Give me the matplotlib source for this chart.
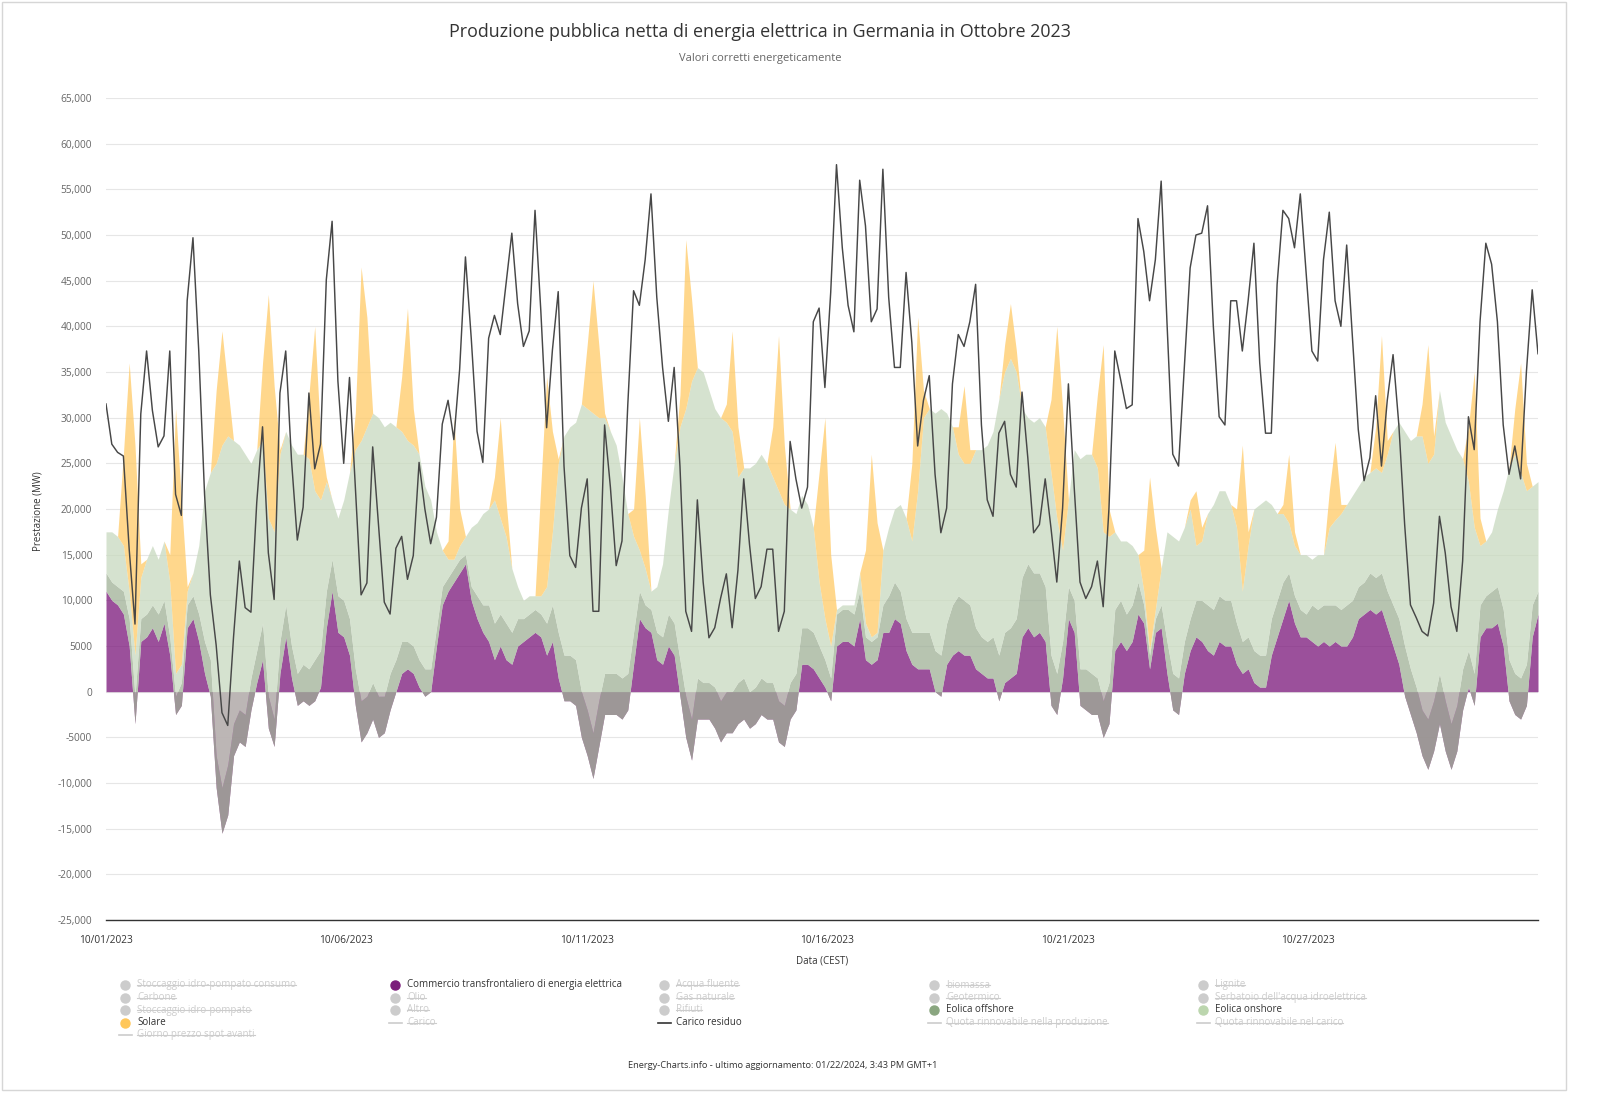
import numpy as np
import matplotlib
matplotlib.use("Agg")
import matplotlib.pyplot as plt
from matplotlib.lines import Line2D
from matplotlib.patches import Rectangle

plt.rcParams['font.family'] = ['Open Sans', 'DejaVu Sans']

W, H = 1600, 1116

# 3-hourly samples, hours since 10/01/2023 00:00 (one row per day)
hours = np.arange(1, 744, 3)

# Commercio transfrontaliero (MW), negative = export
trade = [
    11000, 10000, 9500, 8500, 5000, -3500, 5500, 6000,
    7000, 5500, 7500, 4000, -2500, -1500, 7000, 8000,
    5500, 2000, -500, -10500, -15500, -13500, -7000, -5500,
    -6000, -2000, 1000, 3500, -4000, -6000, 2000, 6000,
    1500, -1500, -1000, -1500, -1000, 500, 7000, 11000,
    6500, 6000, 4000, -1500, -5500, -4500, -3000, -5000,
    -4500, -2000, 0, 2000, 2500, 2000, 500, -500,
    0, 5000, 9500, 11000, 12000, 13000, 14000, 10000,
    8000, 6500, 5500, 3500, 5000, 3500, 3000, 5000,
    5500, 6000, 6500, 6000, 4000, 5500, 1500, -1000,
    -1000, -1500, -5000, -7000, -9500, -6000, -2500, -2500,
    -2500, -3000, -2000, 3000, 8000, 7000, 6500, 3500,
    3000, 5000, 4000, -500, -5000, -7500, -3000, -3000,
    -3000, -4000, -5500, -4500, -4500, -3500, -3000, -4000,
    -3500, -2500, -3000, -3000, -5500, -6000, -3000, -2000,
    3000, 3000, 2500, 1500, 500, -1000, 5000, 5500,
    5500, 5000, 8000, 3500, 3000, 3500, 6500, 6500,
    8000, 7500, 4500, 3000, 2500, 2500, 2500, 0,
    -500, 3000, 4000, 4500, 4000, 4000, 2500, 2000,
    1500, 1500, -1000, 1000, 1500, 2000, 6000, 7000,
    6000, 6500, 5500, -1500, -2500, 1500, 8000, 6500,
    -1500, -2000, -2500, -2500, -5000, -3500, 4500, 5500,
    4500, 5500, 8500, 7500, 2500, 6500, 7000, 2000,
    -2000, -2500, 2000, 4500, 6000, 5500, 4500, 4000,
    5500, 5000, 5000, 3000, 2000, 2500, 1000, 500,
    500, 4000, 6000, 8000, 10000, 7500, 6000, 6000,
    5500, 5000, 5500, 5000, 5500, 5000, 5000, 6000,
    8000, 8500, 9000, 8500, 9000, 7000, 5000, 3000,
    -500, -2500, -4500, -7000, -8500, -6500, -3500, -6500,
    -8500, -6500, -2000, 500, -1500, 6000, 7000, 7000,
    7500, 5000, -1000, -2500, -3000, -1500, 6000, 8500,
]

# Eolica offshore (MW)
offshore = [
    2000, 2000, 2000, 2500, 3000, 3000, 2500, 2500,
    2500, 3000, 2500, 2000, 2000, 2500, 2500, 2500,
    3000, 3500, 4000, 3500, 5000, 5500, 3500, 3500,
    3500, 3500, 3500, 4000, 3500, 3000, 3500, 3500,
    3500, 3500, 4000, 4000, 4500, 4000, 4000, 3500,
    4000, 4000, 4000, 4000, 4500, 4000, 4000, 4500,
    4000, 4000, 3500, 3500, 3000, 3000, 3000, 3000,
    2500, 2000, 2000, 1500, 1500, 1500, 1000, 1500,
    2500, 3000, 4000, 4000, 3500, 4000, 3500, 3000,
    2500, 2500, 2500, 2500, 3500, 4000, 5000, 5000,
    5000, 5000, 5000, 5000, 5000, 5000, 4500, 4500,
    4500, 4500, 4000, 3500, 3000, 2500, 2500, 3000,
    3000, 3500, 3500, 4000, 4500, 4500, 4500, 4000,
    4000, 4500, 4500, 4500, 4500, 4500, 4500, 4000,
    4000, 4000, 4000, 4000, 4500, 4500, 4000, 4000,
    4000, 4000, 4000, 3500, 3000, 2500, 3500, 3500,
    3500, 3500, 3000, 2500, 2500, 2500, 3000, 4000,
    4000, 3500, 3500, 3500, 4000, 4000, 4000, 4500,
    4500, 4500, 5500, 6000, 6000, 5500, 4500, 4000,
    4000, 4500, 5000, 5500, 5500, 6000, 6500, 7000,
    7000, 6500, 6000, 5500, 4500, 4000, 3500, 3500,
    4000, 4500, 4500, 4000, 4000, 4500, 4500, 4500,
    4000, 4000, 3500, 2000, 1500, 1500, 2500, 3500,
    4000, 4000, 3500, 3500, 4000, 4500, 5000, 5000,
    5000, 5000, 5000, 4500, 3500, 3500, 3500, 3500,
    3500, 4000, 4000, 4000, 3000, 3000, 3000, 2500,
    4000, 4000, 4000, 4500, 4000, 4000, 4500, 4000,
    3500, 3500, 4000, 4000, 4000, 4000, 4500, 5000,
    5500, 5000, 5000, 5000, 5500, 5500, 5500, 5500,
    5000, 5000, 4500, 4000, 3500, 3500, 3500, 4000,
    4000, 4000, 4500, 4500, 4500, 4500, 3500, 2500,
]

# Eolica onshore (MW)
onshore = [
    4500, 5500, 5500, 5000, 3000, 4500, 4500, 6000,
    6500, 6000, 6500, 6000, 2500, 2000, 1500, 2500,
    7500, 16500, 20500, 32000, 37500, 36000, 31000, 29000,
    28500, 23500, 22000, 20000, 19500, 20500, 20500, 19000,
    22000, 24000, 23000, 23000, 18500, 16500, 12000, 6500,
    8500, 11000, 16000, 24000, 28500, 29500, 29500, 30500,
    29500, 27500, 25500, 23000, 22000, 22000, 22500, 20000,
    18500, 10500, 4000, 2000, 1000, 1500, 2000, 6500,
    8000, 10000, 10500, 13500, 10500, 9500, 7000, 3500,
    2000, 2000, 1500, 2000, 4000, 8000, 18500, 24000,
    25000, 26000, 31500, 33000, 35000, 31000, 28000, 26500,
    25000, 22000, 17500, 10500, 4500, 4000, 2000, 5000,
    8000, 11500, 17500, 25500, 31500, 37000, 34000, 34000,
    32000, 30500, 31000, 29500, 28500, 22500, 23000, 24500,
    24500, 24500, 24000, 22500, 23000, 22000, 19000, 17500,
    14500, 13500, 11500, 7000, 4500, 3500, 500, 500,
    500, 1000, 2000, 1500, 500, 500, 6000, 7500,
    8000, 9500, 11000, 10000, 15500, 23500, 24500, 26000,
    27000, 23000, 19500, 15500, 15000, 15500, 19500, 20500,
    21500, 22500, 28000, 28500, 29500, 27000, 18500, 16000,
    16500, 17000, 17500, 20000, 17000, 10000, 9500, 16500,
    23000, 23500, 24000, 23000, 18500, 16000, 8500, 6500,
    8000, 6500, 3000, 1500, 500, 1000, 4000, 12000,
    15000, 15000, 12500, 12000, 6000, 6500, 10000, 11500,
    11500, 12000, 10500, 10500, 5500, 10000, 15500, 16500,
    17000, 12500, 9500, 7500, 5500, 5500, 6000, 6500,
    5000, 6000, 5500, 8500, 9300, 10500, 11000, 11500,
    11000, 11500, 11000, 12000, 11000, 15000, 19000, 21500,
    23500, 25000, 27500, 30000, 28000, 27000, 31000, 30500,
    31500, 28000, 23000, 18500, 16000, 6500, 6000, 6500,
    8500, 13000, 21000, 24000, 22500, 19000, 13000, 12000,
]

# Solare (MW)
solar = [
    0, 0, 0, 10000, 25000, 23000, 1500, 0,
    0, 0, 0, 3000, 29000, 18000, 500, 0,
    0, 0, 0, 8000, 12500, 5500, 0, 0,
    0, 0, 0, 8500, 24500, 16000, 500, 0,
    0, 0, 0, 7000, 18000, 7000, 500, 0,
    0, 0, 0, 4000, 19000, 12000, 0, 0,
    0, 0, 0, 6000, 14500, 4000, 0, 0,
    0, 0, 0, 2000, 15500, 4000, 0, 0,
    0, 0, 0, 2500, 11000, 4000, 0, 0,
    0, 0, 0, 12000, 23000, 11000, 500, 0,
    0, 0, 0, 7000, 14500, 8000, 500, 0,
    0, 0, 0, 3000, 14500, 8000, 0, 0,
    0, 0, 0, 3500, 18500, 9000, 0, 0,
    0, 0, 0, 2000, 11000, 5500, 0, 0,
    0, 0, 0, 5500, 17000, 6500, 0, 0,
    0, 0, 0, 12000, 22000, 10000, 0, 0,
    0, 0, 0, 8000, 20000, 12000, 0, 0,
    0, 0, 0, 8500, 19000, 3000, 0, 0,
    0, 0, 0, 3000, 8500, 1500, 0, 0,
    0, 0, 0, 3000, 6000, 2500, 0, 0,
    0, 0, 0, 8000, 21000, 15500, 0, 0,
    0, 0, 0, 8000, 20500, 3000, 0, 0,
    0, 0, 0, 4500, 19000, 9000, 0, 0,
    0, 0, 0, 1000, 6000, 1500, 0, 0,
    0, 0, 0, 2000, 16000, 1500, 0, 0,
    0, 0, 0, 1000, 7500, 1500, 0, 0,
    0, 0, 0, 4000, 8500, 1000, 0, 0,
    0, 0, 0, 4500, 15000, 1500, 0, 0,
    0, 0, 0, 3500, 13000, 2000, 0, 0,
    0, 0, 0, 6000, 17000, 3000, 0, 0,
    0, 0, 0, 5000, 12000, 3000, 0, 0,
]

# Carico residuo (MW)
residual = [
    31500, 27100, 26200, 25800, 15600, 7400, 30400, 37300,
    30800, 26800, 28000, 37300, 21600, 19300, 42800, 49700,
    37300, 21600, 10600, 5100, -2300, -3700, 6000, 14300,
    9200, 8700, 20700, 29000, 15200, 10100, 32700, 37300,
    25300, 16600, 20200, 32700, 24400, 27100, 45100, 51500,
    34000, 25000, 34400, 22500, 10600, 11900, 26800, 18300,
    9800, 8500, 15700, 17000, 12300, 14900, 25100, 20000,
    16200, 19100, 29300, 31900, 27600, 35300, 47600, 38700,
    28500, 25100, 38700, 41200, 39100, 44600, 50200, 42500,
    37800, 39500, 52700, 41700, 28900, 37400, 43800, 24700,
    14900, 13600, 20100, 23300, 8800, 8800, 29200, 22400,
    13800, 16500, 31400, 43900, 42300, 47300, 54500, 43200,
    35500, 29600, 35500, 24700, 8800, 6600, 21000, 12000,
    5900, 7000, 10200, 12900, 7000, 13300, 23300, 16100,
    10200, 11500, 15600, 15600, 6600, 8800, 27400, 23300,
    20100, 22400, 40500, 42000, 33300, 43700, 57700, 48600,
    42300, 39400, 56000, 51000, 40500, 41900, 57200, 43200,
    35500, 35500, 45900, 38200, 26900, 31900, 34600, 23800,
    17400, 20100, 33700, 39100, 37800, 40500, 44600, 29200,
    21000, 19200, 28300, 29600, 23800, 22400, 32800, 25600,
    17400, 18300, 23300, 17900, 12000, 20100, 33700, 22400,
    12000, 10200, 11500, 14300, 9300, 20100, 37300, 34200,
    31000, 31400, 51800, 48200, 42800, 47300, 55900, 40500,
    26000, 24700, 35500, 46400, 50000, 50200, 53200, 40000,
    30100, 29200, 42800, 42800, 37300, 42800, 49100, 36000,
    28300, 28300, 44600, 52700, 51800, 48600, 54500, 45900,
    37300, 36200, 47300, 52500, 42800, 40000, 48900, 38700,
    28700, 23100, 25600, 32400, 24700, 31900, 36900, 29200,
    18300, 9500, 8100, 6600, 6100, 9700, 19200, 15200,
    9300, 6600, 14300, 30100, 26500, 40500, 49100, 46800,
    40500, 29200, 23800, 26900, 23300, 35000, 44000, 37000,
]

tick_hours = [1, 125, 250, 374, 499, 623]
tick_labels = ["10/01/2023", "10/06/2023", "10/11/2023",
               "10/16/2023", "10/21/2023", "10/27/2023"]

legend_names = [
    "Stoccaggio idro-pompato consumo", "Commercio transfrontaliero di energia elettrica",
    "Acqua fluente", "biomassa", "Lignite",
    "Carbone", "Olio", "Gas naturale", "Geotermico", "Serbatoio dell'acqua idroelettrica",
    "Stoccaggio idro-pompato", "Altro", "Rifiuti", "Eolica offshore", "Eolica onshore",
    "Solare", "Carico", "Carico residuo", "Quota rinnovabile nella produzione",
    "Quota rinnovabile nel carico",
    "Giorno prezzo spot avanti",
]
line_items = {"Carico", "Carico residuo", "Quota rinnovabile nella produzione",
              "Quota rinnovabile nel carico", "Giorno prezzo spot avanti"}

# fill colours (drawn at 0.75 opacity, overlaps below zero give the greys)
c_trade = "#7a167a"
c_off = "#9fb096"
c_on = "#c8d9bf"
c_solar = "#ffca66"
c_res = "#474747"
active = {"Commercio transfrontaliero di energia elettrica": "#7b1e7b",
          "Eolica offshore": "#8aa680", "Eolica onshore": "#bcd6ae",
          "Solare": "#ffc75a", "Carico residuo": "#333333"}


def fx(x):
    return x / W


def fy(y):
    return 1 - y / H


tr = np.array(trade, float)
b1 = tr + np.array(offshore)
b2 = b1 + np.array(onshore)
b3 = b2 + np.array(solar)

fig = plt.figure(figsize=(16, 11.16), dpi=100)
ax = fig.add_axes([fx(106), fy(920), (1538 - 106) / W, (920 - 98) / H])

a = 0.75
ax.fill_between(hours, 0, tr, color=c_trade, alpha=a, lw=0)
ax.fill_between(hours, tr, b1, color=c_off, alpha=a, lw=0)
ax.fill_between(hours, b1, b2, color=c_on, alpha=a, lw=0)
ax.fill_between(hours, b2, b3, color=c_solar, alpha=a, lw=0)
ax.plot(hours, residual, color=c_res, lw=1.05)

ax.set_xlim(1, 742)
ax.set_ylim(-25000, 65000)
yt = np.arange(-25000, 65001, 5000)
ax.set_yticks(yt)
ax.set_yticklabels([f"{v:,}" if abs(v) >= 10000 else str(v) for v in yt])
ax.set_xticks(tick_hours)
ax.set_xticklabels(tick_labels)
ax.grid(axis="y", color="#e6e6e6", lw=0.8)
ax.set_axisbelow(True)
for s in ["left", "right", "top"]:
    ax.spines[s].set_visible(False)
ax.spines["bottom"].set_color("#333333")
ax.spines["bottom"].set_linewidth(1.0)
ax.tick_params(axis="y", length=0, pad=10, labelsize=7.3, labelcolor="#666666")
ax.tick_params(axis="x", length=0, pad=11, labelsize=7.3, labelcolor="#333333")

fig.text(fx(760), fy(32), "Produzione pubblica netta di energia elettrica in Germania in Ottobre 2023",
         ha="center", va="center", fontsize=12.9, color="#333333")
fig.text(fx(760), fy(58), "Valori corretti energeticamente",
         ha="center", va="center", fontsize=8, color="#666666")
fig.text(fx(822), fy(961), "Data (CEST)", ha="center", va="center", fontsize=7, color="#333333")
fig.text(fx(38), fy(511), "Prestazione (MW)", ha="center", va="center", rotation=90,
         fontsize=7, color="#333333")
fig.text(fx(783), fy(1065), "Energy-Charts.info - ultimo aggiornamento: 01/22/2024, 3:43 PM GMT+1",
         ha="center", va="center", fontsize=6.7, color="#333333")

# legend
cols_x = [125, 395, 664, 934, 1203]
rows_y = [985, 997.5, 1010, 1022.5, 1035]
struck = []
for i, name in enumerate(legend_names):
    cx = cols_x[i % 5]
    cy = rows_y[i // 5]
    col = active.get(name, "#cccccc")
    if name in line_items:
        fig.add_artist(Line2D([fx(cx - 6), fx(cx + 7)], [fy(cy), fy(cy)], color=col, lw=1.2,
                              transform=fig.transFigure))
    else:
        fig.add_artist(Line2D([fx(cx)], [fy(cy)], marker="o", ms=6.5, color=col, lw=0,
                              transform=fig.transFigure))
    t = fig.text(fx(cx + 12), fy(cy), name, ha="left", va="center", fontsize=7,
                 color="#333333" if name in active else "#cccccc")
    if name not in active:
        struck.append(t)

fig.canvas.draw()
r = fig.canvas.get_renderer()
for t in struck:
    bb = t.get_window_extent(r).transformed(fig.transFigure.inverted())
    ym = (bb.y0 + bb.y1) / 2
    fig.add_artist(Line2D([bb.x0, bb.x1], [ym, ym], color="#cccccc", lw=0.8,
                          transform=fig.transFigure))

fig.add_artist(Rectangle((fx(2), fy(1090)), (1566 - 2) / W, (1090 - 2) / H, fill=False,
                         edgecolor="#d6d6d6", lw=1, transform=fig.transFigure))

fig.savefig("out.png", dpi=100)
